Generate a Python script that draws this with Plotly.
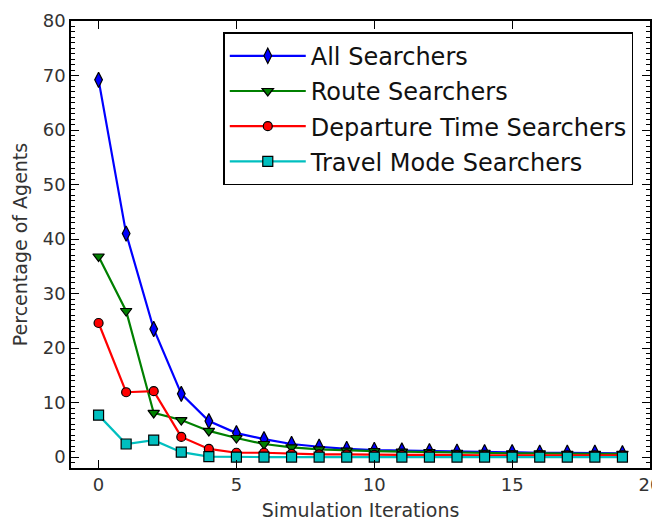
import plotly.graph_objects as go

iterations = list(range(20))
all_searchers = [69.2, 41.0, 23.5, 11.6, 6.6, 4.4, 3.3, 2.4, 1.9, 1.5, 1.3, 1.2, 1.1, 1.0, 0.9, 0.9, 0.8, 0.8, 0.8, 0.7]
route_searchers = [36.8, 26.8, 8.1, 6.8, 4.8, 3.5, 2.4, 1.8, 1.4, 1.2, 1.1, 1.0, 0.9, 0.8, 0.8, 0.7, 0.7, 0.6, 0.6, 0.6]
departure_searchers = [24.6, 11.9, 12.1, 3.7, 1.5, 0.8, 0.8, 0.6, 0.5, 0.5, 0.4, 0.4, 0.4, 0.3, 0.3, 0.3, 0.3, 0.3, 0.3, 0.3]
travel_searchers = [7.7, 2.4, 3.1, 0.9, 0.1, 0.0, 0.0, 0.0, 0.0, 0.0, 0.0, 0.0, 0.0, 0.0, 0.0, 0.0, 0.0, 0.0, 0.0, 0.0]

series = [
    ("All Searchers", all_searchers, "#0000ff", "diamond-tall", 11),
    ("Route Searchers", route_searchers, "#008000", "triangle-down", 10),
    ("Departure Time Searchers", departure_searchers, "#ff0000", "circle", 9),
    ("Travel Mode Searchers", travel_searchers, "#00bfbf", "square", 10),
]

fig = go.Figure()
for i, (name, vals, color, sym, size) in enumerate(series):
    fig.add_trace(go.Scatter(
        x=iterations, y=vals, name=name, mode="lines+markers",
        legendgroup=f"g{i}",
        line=dict(color=color, width=2.2),
        marker=dict(symbol=sym, size=size, color=color, line=dict(color="black", width=1.2)),
    ))

font_family = "DejaVu Sans"
axis_common = dict(
    showline=True, linecolor="black", linewidth=1.5, mirror="allticks",
    ticks="inside", ticklen=8, tickwidth=1.2, tickcolor="black",
    showgrid=False, zeroline=False, automargin=False, ticklabeloverflow="allow",
    tickfont=dict(family=font_family, size=18, color="#333333"),
)

fig.update_layout(
    width=652, height=513,
    margin=dict(l=63, r=10, t=13, b=53),
    paper_bgcolor="white", plot_bgcolor="white",
    font=dict(family=font_family, color="#222222"),
    xaxis=dict(range=[-1, 20], dtick=5, tick0=0,
               title=dict(text="Simulation Iterations", font=dict(family=font_family, size=19, color="#333333"), standoff=9),
               **axis_common),
    yaxis=dict(range=[-2, 80], dtick=10, tick0=0,
               minor=dict(dtick=1, ticks="inside", ticklen=4, tickwidth=1, tickcolor="black"),
               title=dict(text="Percentage of Agents", font=dict(family=font_family, size=19, color="#333333"), standoff=10),
               **axis_common),
    legend=dict(
        x=0.263, y=0.975, xanchor="left", yanchor="top",
        bordercolor="black", borderwidth=1.5, bgcolor="white",
        font=dict(family=font_family, size=24, color="#111111"),
        tracegroupgap=1, itemwidth=76,
    ),
    showlegend=True,
)

fig.write_html("out.html")
